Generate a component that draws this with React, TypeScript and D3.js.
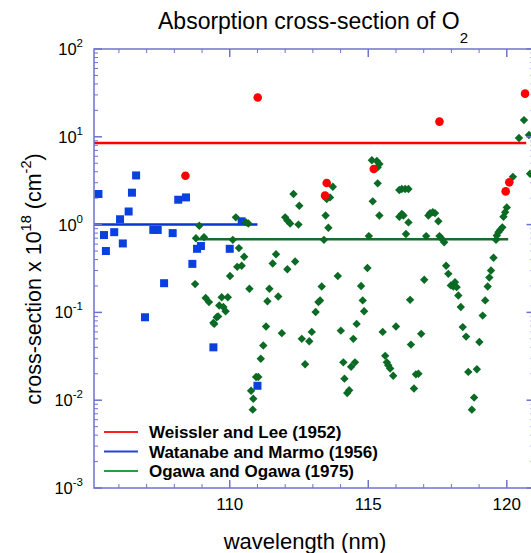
import React from "react";
import * as d3 from "d3";

// ---- Data ----
const weisslerWl = [108.4, 111.01, 113.5, 113.44, 115.2, 117.57, 119.96, 120.09, 120.66];
const weisslerVal = [3.6, 28, 2.98, 2.14, 4.3, 14.9, 2.39, 3.03, 31];

const watanabeWl = [105.26, 105.46, 105.53, 105.83, 106.04, 106.14, 106.35, 106.47, 106.62, 106.94, 107.24, 107.4, 107.63, 107.94, 108.14, 108.42, 108.65, 108.82, 108.96, 109.41, 110.0, 110.43, 111.0];
const watanabeVal = [2.23, 0.76, 0.5, 0.82, 1.15, 0.61, 1.41, 2.31, 3.63, 0.088, 0.87, 0.87, 0.215, 0.8, 1.92, 2.04, 0.357, 0.53, 0.57, 0.04, 0.53, 1.09, 0.0146];

const ogawaWl = [108.75, 108.78, 108.9, 109.07, 109.13, 109.25, 109.41, 109.44, 109.53, 109.58, 109.62, 109.71, 109.77, 109.85, 109.93, 110.01, 110.11, 110.22, 110.27, 110.33, 110.43, 110.52, 110.59, 110.67, 110.71, 110.77, 110.83, 110.85, 110.95, 111.03, 111.12, 111.21, 111.31, 111.36, 111.43, 111.55, 111.67, 111.75, 111.88, 112.0, 112.08, 112.08, 112.18, 112.3, 112.36, 112.48, 112.51, 112.6, 112.72, 112.87, 112.96, 113.1, 113.2, 113.26, 113.32, 113.4, 113.46, 113.5, 113.56, 113.62, 113.72, 113.9, 114.01, 114.1, 114.14, 114.24, 114.31, 114.38, 114.46, 114.52, 114.58, 114.74, 114.8, 114.85, 114.97, 115.02, 115.13, 115.16, 115.31, 115.34, 115.34, 115.4, 115.4, 115.52, 115.61, 115.67, 115.72, 115.79, 115.9, 116.0, 116.12, 116.12, 116.21, 116.21, 116.27, 116.33, 116.36, 116.45, 116.45, 116.51, 116.54, 116.65, 116.72, 116.81, 116.91, 117.02, 117.09, 117.17, 117.23, 117.33, 117.41, 117.53, 117.57, 117.65, 117.74, 117.81, 117.89, 117.98, 118.07, 118.13, 118.19, 118.25, 118.34, 118.41, 118.53, 118.61, 118.74, 118.82, 118.92, 119.01, 119.13, 119.22, 119.31, 119.37, 119.43, 119.52, 119.61, 119.64, 119.7, 119.76, 119.84, 119.88, 119.94, 120.0, 120.22, 120.44, 120.62, 120.8, 120.84];
const ogawaVal = [0.21, 0.7, 0.97, 0.72, 0.146, 0.131, 0.076, 0.074, 0.088, 0.09, 0.12, 0.149, 0.115, 0.103, 0.149, 0.26, 0.67, 1.21, 0.33, 0.54, 0.34, 0.43, 1.06, 1.03, 0.186, 0.0128, 0.0078, 0.0104, 0.0184, 0.0184, 0.0297, 0.042, 0.069, 0.134, 0.186, 0.36, 0.46, 0.152, 0.058, 1.21, 1.11, 0.31, 1.03, 2.23, 0.38, 1.0, 1.64, 0.05, 0.0257, 0.047, 0.06, 0.101, 0.131, 0.137, 0.197, 0.67, 1.27, 1.96, 0.92, 2.04, 2.7, 0.26, 0.062, 0.027, 0.0176, 0.0121, 0.013, 0.024, 0.05, 0.027, 0.074, 0.2, 0.137, 0.103, 0.32, 0.74, 5.4, 1.84, 5.3, 4.5, 2.95, 4.9, 1.27, 0.06, 0.032, 0.027, 0.025, 0.023, 0.019, 0.069, 2.48, 1.23, 2.54, 1.32, 1.27, 2.54, 0.78, 2.54, 1.06, 0.139, 0.043, 0.0136, 0.0197, 0.02, 0.057, 0.235, 0.74, 1.27, 1.35, 1.38, 1.35, 1.09, 0.74, 0.69, 0.63, 0.34, 0.275, 0.203, 0.197, 0.221, 0.194, 0.156, 0.115, 0.068, 0.053, 0.021, 0.0078, 0.0107, 0.0225, 0.046, 0.092, 0.137, 0.197, 0.25, 0.3, 0.42, 0.67, 0.75, 0.82, 0.87, 0.93, 1.23, 1.38, 1.57, 3.5, 9.7, 15.5, 10.5, 3.8];

// mean lines: [startWl, endWl, value]
const weisslerMean = [105.1, 120.7, 8.5];
const watanabeMean = [105.1, 111.0, 1.0];
const ogawaMean = [108.85, 120.05, 0.68];

const legendLabels = ["Weissler and Lee (1952)", "Watanabe and Marmo (1956)", "Ogawa and Ogawa (1975)"];
const xTickLabels = [110, 115, 120];
const yDecades = [-3, -2, -1, 0, 1, 2];

const W = 531, H = 553;
const L = 94, R = 534.5, T = 49, B = 488;
const AXIS = "#6f73cc";
const FONT = "Liberation Sans, Arial, sans-serif";

export default function App() {
  const x = d3.scaleLinear().domain([105.1, 121]).range([L, R]);
  const y = d3.scaleLog().domain([1e-3, 1e2]).range([B, T]);

  const minorX = d3.range(106, 122, 1).filter((v) => v % 5 !== 0);
  const majorX = [110, 115, 120];
  const minorY: number[] = [];
  for (let e = -3; e < 2; e++) for (let m = 2; m <= 9; m++) minorY.push(m * Math.pow(10, e));

  const sq = 8;
  const diamond = (cx: number, cy: number) => {
    const r = 4.2;
    return `M${cx},${cy - r}L${cx + r},${cy}L${cx},${cy + r}L${cx - r},${cy}Z`;
  };

  const legendColors = ["#ff2020", "#2248d0", "#22a040"];
  const legendY = [432, 451.5, 471];

  return (
    <svg width={W} height={H} style={{ position: "absolute", left: 0, top: 0, background: "#fff" }} fontFamily={FONT}>
      <defs>
        <clipPath id="plot">
          <rect x={L} y={T} width={R - L} height={B - T} />
        </clipPath>
      </defs>
      <rect x={0} y={0} width={W} height={H} fill="#fff" />

      {/* Title */}
      <text x={158} y={29} fontSize={23} fill="#000">
        Absorption cross-section of O
        <tspan fontSize={15} dy={14}>2</tspan>
      </text>

      {/* Data */}
      <g clipPath="url(#plot)">
        <line x1={x(weisslerMean[0])} x2={x(weisslerMean[1])} y1={y(weisslerMean[2])} y2={y(weisslerMean[2])} stroke="#ff0000" strokeWidth={2.5} />
        <line x1={x(watanabeMean[0])} x2={x(watanabeMean[1])} y1={y(watanabeMean[2])} y2={y(watanabeMean[2])} stroke="#0a36d0" strokeWidth={2.5} />
        <line x1={x(ogawaMean[0])} x2={x(ogawaMean[1])} y1={y(ogawaMean[2])} y2={y(ogawaMean[2])} stroke="#1b6b2b" strokeWidth={2.5} />
        {watanabeWl.map((w, i) => (
          <rect key={"b" + i} x={x(w) - sq / 2} y={y(watanabeVal[i]) - sq / 2} width={sq} height={sq} fill="#0a3fe0" />
        ))}
        {ogawaWl.map((w, i) => (
          <path key={"g" + i} d={diamond(x(w), y(ogawaVal[i]))} fill="#0b6a24" />
        ))}
        {weisslerWl.map((w, i) => (
          <circle key={"r" + i} cx={x(w)} cy={y(weisslerVal[i])} r={4.3} fill="#ff0000" />
        ))}
      </g>

      {/* Axes frame */}
      <g stroke={AXIS} strokeWidth={1.5} fill="none">
        <rect x={L} y={T} width={R - L} height={B - T} />
        {majorX.map((v) => (
          <g key={"mx" + v}>
            <line x1={x(v)} x2={x(v)} y1={B} y2={B - 8} />
            <line x1={x(v)} x2={x(v)} y1={T} y2={T + 8} />
          </g>
        ))}
        {minorX.map((v) => (
          <g key={"nx" + v}>
            <line x1={x(v)} x2={x(v)} y1={B} y2={B - 4} strokeWidth={1} />
            <line x1={x(v)} x2={x(v)} y1={T} y2={T + 4} strokeWidth={1} />
          </g>
        ))}
        {yDecades.map((e) => (
          <g key={"my" + e}>
            <line x1={L} x2={L + 8} y1={y(Math.pow(10, e))} y2={y(Math.pow(10, e))} />
            <line x1={R} x2={R - 8} y1={y(Math.pow(10, e))} y2={y(Math.pow(10, e))} />
          </g>
        ))}
        {minorY.map((v, i) => (
          <g key={"ny" + i}>
            <line x1={L} x2={L + 4} y1={y(v)} y2={y(v)} strokeWidth={1} />
            <line x1={R} x2={R - 4} y1={y(v)} y2={y(v)} strokeWidth={1} />
          </g>
        ))}
      </g>

      {/* Tick labels */}
      {xTickLabels.map((v) => (
        <text key={"xl" + v} x={x(v)} y={510} textAnchor="middle" fontSize={17} fill="#000">{v}</text>
      ))}
      {yDecades.map((e) => (
        <text key={"yl" + e} x={83} y={y(Math.pow(10, e)) + 6} textAnchor="end" fontSize={16.5} fill="#000">
          10
          <tspan fontSize={11.5} dy={-8}>{e}</tspan>
        </text>
      ))}

      {/* Axis titles */}
      <text x={305} y={549} textAnchor="middle" fontSize={22} fill="#000">wavelength (nm)</text>
      <text transform={`translate(41, 279) rotate(-90)`} textAnchor="middle" fontSize={21.5} fill="#000">
        cross-section x 10
        <tspan fontSize={14.5} dy={-10}>18</tspan>
        <tspan dy={10}> (cm</tspan>
        <tspan fontSize={14.5} dy={-10}>-2</tspan>
        <tspan dy={10}>)</tspan>
      </text>

      {/* Legend */}
      {legendLabels.map((lab, i) => (
        <g key={"lg" + i}>
          <line x1={104} x2={138} y1={legendY[i]} y2={legendY[i]} stroke={legendColors[i]} strokeWidth={2} />
          <text x={149} y={legendY[i] + 6} fontSize={17} fontWeight="bold" fill="#000">{lab}</text>
        </g>
      ))}
    </svg>
  );
}
